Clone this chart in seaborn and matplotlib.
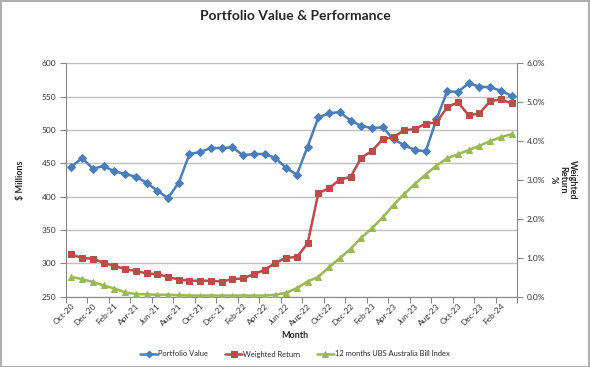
import numpy as np
import pandas as pd
import matplotlib
matplotlib.use("Agg")
import matplotlib.pyplot as plt
from matplotlib.patches import Rectangle
import seaborn as sns

months = ["Oct-20","Nov-20","Dec-20","Jan-21","Feb-21","Mar-21","Apr-21","May-21","Jun-21","Jul-21",
          "Aug-21","Sep-21","Oct-21","Nov-21","Dec-21","Jan-22","Feb-22","Mar-22","Apr-22","May-22",
          "Jun-22","Jul-22","Aug-22","Sep-22","Oct-22","Nov-22","Dec-22","Jan-23","Feb-23","Mar-23",
          "Apr-23","May-23","Jun-23","Jul-23","Aug-23","Sep-23","Oct-23","Nov-23","Dec-23","Jan-24",
          "Feb-24","Mar-24"]
portfolio_value = [445, 458, 442, 446, 438, 434, 430, 421, 409, 398,
                   421, 464, 467, 473, 473, 474, 462, 464, 464, 458,
                   443, 433, 475, 519, 525, 527, 514, 506, 503, 504,
                   486, 477, 470, 468, 516, 558, 557, 570, 565, 564,
                   559, 551]
weighted_return = [1.09, 0.99, 0.98, 0.87, 0.79, 0.71, 0.66, 0.60, 0.58, 0.51,
                   0.44, 0.41, 0.41, 0.41, 0.39, 0.45, 0.47, 0.58, 0.69, 0.87,
                   1.00, 1.02, 1.37, 2.66, 2.79, 3.01, 3.08, 3.57, 3.75, 4.05,
                   4.10, 4.28, 4.31, 4.45, 4.48, 4.87, 5.00, 4.66, 4.71, 5.03,
                   5.07, 4.97]
ubs_bill_index = [0.51, 0.45, 0.38, 0.29, 0.21, 0.11, 0.07, 0.06, 0.05, 0.05,
                  0.04, 0.03, 0.03, 0.03, 0.03, 0.03, 0.03, 0.03, 0.03, 0.05,
                  0.10, 0.22, 0.39, 0.51, 0.76, 0.99, 1.23, 1.52, 1.76, 2.04,
                  2.36, 2.64, 2.90, 3.14, 3.37, 3.56, 3.66, 3.77, 3.88, 4.00,
                  4.10, 4.18]
left_ticks = [250, 300, 350, 400, 450, 500, 550, 600]
right_ticks = [0, 1, 2, 3, 4, 5, 6]

df = pd.DataFrame({"idx": np.arange(len(months)), "Month": months,
                   "Portfolio Value": portfolio_value,
                   "Weighted Return": weighted_return,
                   "12 months UBS Australia Bill Index": ubs_bill_index})

sns.set_style("white")
plt.rcParams["font.family"] = ["Lato", "DejaVu Sans"]

fig = plt.figure(figsize=(5.9, 3.67), dpi=100)
W, H = 590, 367
ax = fig.add_axes([66 / W, 1 - 296.7 / H, (517 - 66) / W, (296.7 - 63.3) / H])
ax2 = ax.twinx()

blue, red, green = "#4A7EBB", "#BE4B48", "#98B954"
sns.lineplot(data=df, x="idx", y="Portfolio Value", ax=ax, color=blue, marker="D",
             markersize=3.8, markeredgecolor=blue, linewidth=1.8, legend=False)
sns.lineplot(data=df, x="idx", y="Weighted Return", ax=ax2, color=red, marker="s",
             markersize=4.8, markeredgecolor=red, linewidth=1.8, legend=False)
sns.lineplot(data=df, x="idx", y="12 months UBS Australia Bill Index", ax=ax2, color=green,
             marker="^", markersize=4.8, markeredgecolor=green, linewidth=1.8, legend=False)

n = len(months)
ax.set_xlim(-0.5, n - 0.5)
ax.set_ylim(250, 600)
ax2.set_ylim(0, 6)
ax.set_yticks(left_ticks)
ax.set_yticklabels([str(t) for t in left_ticks])
ax2.set_yticks(right_ticks)
ax2.set_yticklabels([f"{t:.1f}%" for t in right_ticks])

ax.set_xticks(np.arange(0, n, 2))
ax.set_xticklabels(months[::2], rotation=45, ha="right", rotation_mode="anchor")
ax.set_xticks(np.arange(-0.5, n, 2), minor=True)
ax.tick_params(axis="x", which="major", length=0, pad=4, labelsize=6, colors="#333333")
ax.tick_params(axis="x", which="minor", length=4, width=0.8, color="#868686", direction="out", bottom=True)
ax.tick_params(axis="y", length=4, width=0.8, color="#868686", direction="out", labelsize=6,
               labelcolor="#333333", pad=3, left=True)
ax2.tick_params(axis="y", length=4, width=0.8, color="#868686", direction="out", labelsize=6,
                labelcolor="#333333", pad=3, right=True)

ax.grid(axis="y", color="#BFBFBF", linewidth=1.0)
ax.grid(axis="x", visible=False)
ax.set_axisbelow(True)
for a in (ax, ax2):
    a.spines["top"].set_visible(False)
    for s in ("left", "right", "bottom"):
        a.spines[s].set_color("#868686")
        a.spines[s].set_linewidth(0.8)
ax2.spines["left"].set_visible(False)
ax2.spines["bottom"].set_visible(False)
ax.spines["right"].set_visible(False)

ax.set_xlabel("")
ax.set_ylabel("")
ax2.set_ylabel("")

fig.text(0.5, 1 - 16 / H, "Portfolio Value & Performance", ha="center", va="center",
         fontsize=10, fontweight="bold")
fig.text(20 / W, 1 - 180 / H, "$ Millions", ha="center", va="center", rotation=90,
         fontsize=6.5, fontweight="bold")
fig.text(563 / W, 1 - 180 / H, "Weighted\nReturn\n%", ha="center", va="center", rotation=-90,
         fontsize=6.5, fontweight="bold", linespacing=1.1, multialignment="center")
fig.text(0.5, 1 - 336 / H, "Month", ha="center", va="center", fontsize=6.5, fontweight="bold")

handles = [ax.lines[0], ax2.lines[0], ax2.lines[1]]
labels = ["Portfolio Value", "Weighted Return", "12 months UBS Australia Bill Index"]
fig.legend(handles, labels, loc="center", bbox_to_anchor=(0.5, 1 - 354 / H), ncol=3,
           frameon=False, fontsize=5.4, handlelength=2.3, handletextpad=0.15,
           columnspacing=2.2, markerscale=0.9)

fig.patches.append(Rectangle((0.5 / W, 0.5 / H), 1 - 1.5 / W, 1 - 1.5 / H,
                             transform=fig.transFigure, fill=False, edgecolor="#A0A0A0",
                             linewidth=1.2))

fig.savefig("out.png", dpi=100)
